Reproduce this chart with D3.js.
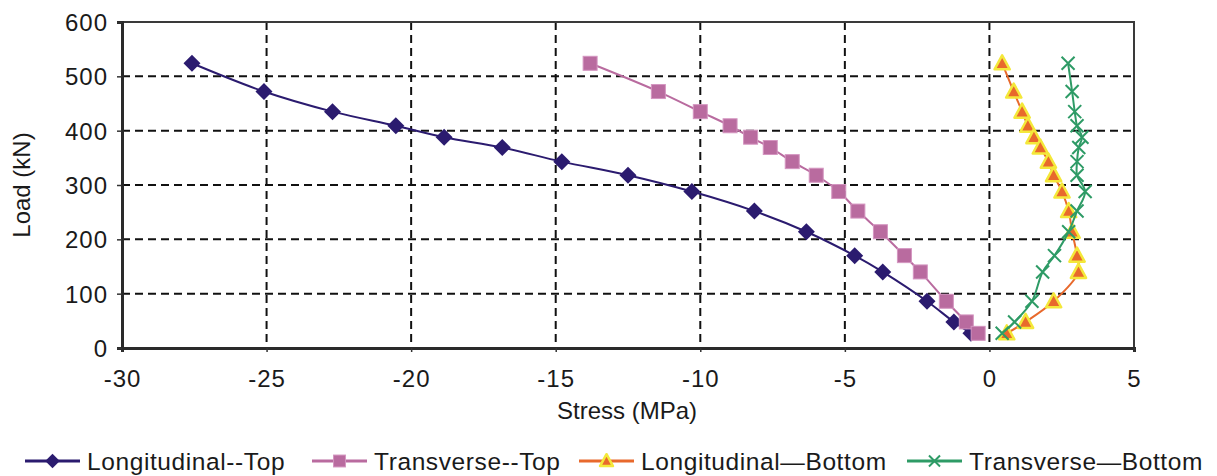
<!DOCTYPE html>
<html><head><meta charset="utf-8">
<script src="https://cdn.jsdelivr.net/npm/d3@7"></script>
<style>
html,body{margin:0;padding:0;background:#fff;}
svg text{font-family:"Liberation Sans",Arial,sans-serif;fill:#1a1a1a;}
</style></head>
<body>
<svg id="chart" width="1217" height="476"></svg>
<script>
const loads = [524, 472, 435, 409, 388, 369, 343, 318, 288, 252, 214, 170, 140, 86, 48, 27];
const longTop = [-27.58, -25.09, -22.72, -20.53, -18.86, -16.85, -14.79, -12.50, -10.29, -8.13, -6.33, -4.66, -3.69, -2.16, -1.23, -0.64];
const transTop = [-13.81, -11.45, -10.0, -8.97, -8.26, -7.58, -6.82, -5.99, -5.21, -4.55, -3.77, -2.94, -2.39, -1.49, -0.80, -0.39];
const longBot = [0.44, 0.84, 1.13, 1.33, 1.54, 1.76, 2.04, 2.22, 2.51, 2.74, 2.86, 3.03, 3.08, 2.22, 1.25, 0.60];
const transBot = [2.72, 2.86, 2.95, 3.03, 3.20, 3.09, 3.03, 3.03, 3.31, 3.03, 2.74, 2.25, 1.84, 1.47, 0.87, 0.44];
const seriesNames = ["Longitudinal--Top", "Transverse--Top", "Longitudinal\u2014Bottom", "Transverse\u2014Bottom"];
const xTicks = [-30, -25, -20, -15, -10, -5, 0, 5];
const yTicks = [0, 100, 200, 300, 400, 500, 600];

const svg = d3.select("#chart");
const L = 122, R = 1134, T = 22, B = 348;
const x = d3.scaleLinear().domain([-30, 5]).range([L, R]);
const y = d3.scaleLinear().domain([0, 600]).range([B, T]);

const styles = [
  {color:"#2b1b6f", marker:"diamond"},
  {color:"#b96b9f", marker:"square"},
  {color:"#e8692c", marker:"triangle"},
  {color:"#2e9b66", marker:"cross"}
];
const data = [longTop, transTop, longBot, transBot].map((vals, i) => ({
  name: seriesNames[i], ...styles[i],
  pts: vals.map((v, j) => ({x: v, y: loads[j]}))
}));

// gridlines
const grid = svg.append("g");
grid.selectAll("line.h").data(yTicks.filter(d => d > 0 && d < 600)).join("line")
  .attr("x1", L).attr("x2", R).attr("y1", d => y(d)).attr("y2", d => y(d))
  .attr("stroke", "#111").attr("stroke-width", 2).attr("stroke-dasharray", "8,5");
grid.selectAll("line.v").data(xTicks.filter(d => d > -30 && d < 5)).join("line")
  .attr("y1", T).attr("y2", B).attr("x1", d => x(d)).attr("x2", d => x(d))
  .attr("stroke", "#111").attr("stroke-width", 2).attr("stroke-dasharray", "8,5");

// frame
svg.append("rect").attr("x", L).attr("y", T).attr("width", R - L).attr("height", B - T)
  .attr("fill", "none").attr("stroke", "#3a3a3a").attr("stroke-width", 2);

// axes
const fmt = d => String(d);
const xAxis = svg.append("g").attr("transform", `translate(0,${B})`)
  .call(d3.axisBottom(x).tickValues(xTicks).tickSize(4).tickPadding(18).tickFormat(fmt));
const yAxis = svg.append("g").attr("transform", `translate(${L},0)`)
  .call(d3.axisLeft(y).tickValues(yTicks).tickSize(5).tickPadding(9).tickFormat(fmt));
[xAxis, yAxis].forEach(a => {
  a.select(".domain").attr("stroke", "#2a2a2a").attr("stroke-width", 3);
  a.selectAll(".tick line").attr("stroke", "#333").attr("stroke-width", 1.5);
  a.selectAll(".tick text").attr("font-size", 24).attr("fill", "#1a1a1a")
    .style("letter-spacing", "1px")
    .style("font-family", '"Liberation Sans",Arial,sans-serif');
});
xAxis.selectAll(".tick text").attr("dy", "0.71em");
yAxis.selectAll(".tick text").attr("dy", "0.35em");

// axis titles
svg.append("text").attr("x", 627).attr("y", 419).attr("text-anchor", "middle")
  .attr("font-size", 24).text("Stress (MPa)");
svg.append("text").attr("transform", `translate(30,${(T + B) / 2}) rotate(-90)`)
  .attr("text-anchor", "middle").attr("font-size", 24).text("Load (kN)");

// markers
function drawMarker(g, s, cx, cy, scale) {
  const k = scale || 1;
  if (s.marker === "diamond") {
    const r = 8.5 * k;
    g.append("path").attr("d", `M${cx},${cy - r}L${cx + r},${cy}L${cx},${cy + r}L${cx - r},${cy}Z`)
      .attr("fill", s.color);
  } else if (s.marker === "square") {
    const r = 7 * k;
    g.append("rect").attr("x", cx - r).attr("y", cy - r).attr("width", 2 * r).attr("height", 2 * r)
      .attr("fill", s.color).attr("stroke", "#d495c0").attr("stroke-width", 1);
  } else if (s.marker === "triangle") {
    const r = 8 * k;
    g.append("path").attr("d", `M${cx},${cy - r}L${cx + r * 0.95},${cy + r * 0.75}L${cx - r * 0.95},${cy + r * 0.75}Z`)
      .attr("fill", "#e8692c").attr("stroke", "#f4e83a").attr("stroke-width", 2.5).attr("stroke-linejoin", "round");
  } else {
    const r = 6.5 * k;
    g.append("path").attr("d", `M${cx - r},${cy - r}L${cx + r},${cy + r}M${cx - r},${cy + r}L${cx + r},${cy - r}`)
      .attr("stroke", s.color).attr("stroke-width", 2).attr("fill", "none");
  }
}

const line = d3.line().x(d => x(d.x)).y(d => y(d.y)).curve(d3.curveCatmullRom.alpha(0.5));
data.forEach(s => {
  const g = svg.append("g");
  g.append("path").attr("d", line(s.pts)).attr("fill", "none")
    .attr("stroke", s.color).attr("stroke-width", 2);
  s.pts.forEach(p => drawMarker(g, s, x(p.x), y(p.y)));
});

// legend
const legX = [25, 312, 579, 907];
const legY = 461;
data.forEach((s, i) => {
  const g = svg.append("g");
  g.append("line").attr("x1", legX[i]).attr("x2", legX[i] + 55).attr("y1", legY).attr("y2", legY)
    .attr("stroke", s.color).attr("stroke-width", 3);
  drawMarker(g, s, legX[i] + 27.5, legY, 0.85);
  g.append("text").attr("x", legX[i] + 62).attr("y", legY).attr("dy", "0.35em")
    .attr("font-size", 24.5).style("letter-spacing", "0.6px").text(s.name);
});
</script>
</body></html>
